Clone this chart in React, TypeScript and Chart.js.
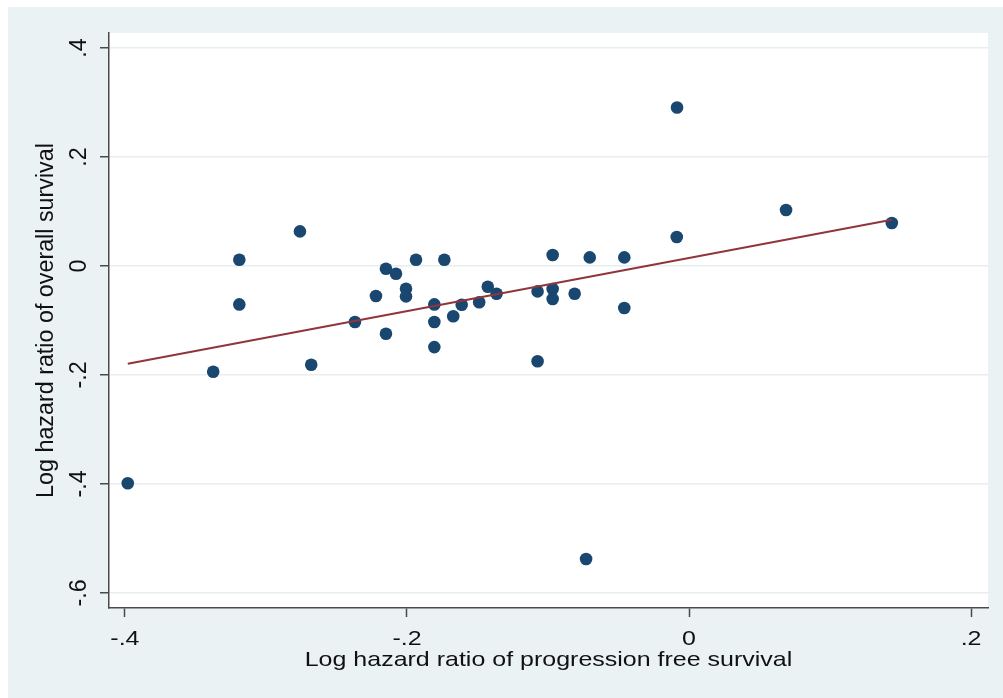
import { useEffect, useRef } from 'react';
import { Chart, registerables } from 'chart.js';

Chart.register(...registerables);

// Study-level log hazard ratios (x: progression free survival, y: overall survival)
const pfsLogHR = [
  -0.398, -0.3374, -0.3189, -0.3189, -0.2759, -0.2679, -0.2369, -0.222, -0.2149, -0.2149,
  -0.2078, -0.2007, -0.2007, -0.1936, -0.1806, -0.1806, -0.1806, -0.1735, -0.1672, -0.1612,
  -0.1488, -0.1427, -0.1365, -0.1074, -0.1074, -0.0967, -0.0967, -0.0967, -0.0811, -0.073,
  -0.0704, -0.0459, -0.0459, -0.0085, -0.0087, 0.0688, 0.1438,
];
const osLogHR = [
  -0.3985, -0.1941, 0.0116, -0.0705, 0.0635, -0.1813, -0.1028, -0.0551, -0.005, -0.1243,
  -0.0141, -0.0417, -0.0558, 0.0116, -0.0705, -0.1028, -0.1488, 0.0116, -0.0922, -0.0711,
  -0.0665, -0.038, -0.0509, -0.0466, -0.1748, 0.0202, -0.0422, -0.0606, -0.0509, -0.5375,
  0.0158, 0.0158, -0.0771, 0.2907, 0.0533, 0.1028, 0.079,
];

// Fitted line endpoints
const fitX = [-0.398, 0.1438];
const fitY = [-0.1794, 0.085];

const xTickValues = [-0.4, -0.2, 0, 0.2];
const xTickLabels = ['-.4', '-.2', '0', '.2'];
const yTickValues = [-0.6, -0.4, -0.2, 0, 0.2, 0.4];
const yTickLabels = ['-.6', '-.4', '-.2', '0', '.2', '.4'];

const xTitle = 'Log hazard ratio of progression free survival';
const yTitle = 'Log hazard ratio of overall survival';

const NAVY = '#1a476f';
const MAROON = '#90353b';
const BG = '#eaf2f3';
const GRID = '#e6eef0';
const AXIS = '#4a4a4a';
const TEXT = '#111111';
const H_TEXT_STRETCH = 1.19;

const bgPlugin = {
  id: 'stataBg',
  beforeDraw(chart: any) {
    const { ctx, chartArea, width, height } = chart;
    ctx.save();
    ctx.fillStyle = BG;
    ctx.fillRect(0, 0, width, height);
    ctx.fillStyle = '#ffffff';
    ctx.fillRect(chartArea.left, chartArea.top, chartArea.right - chartArea.left, chartArea.bottom - chartArea.top);
    ctx.restore();
  },
};

// Horizontal text in the original is drawn wider than the font's natural width.
const stretchPlugin = {
  id: 'hTextStretch',
  beforeDraw(chart: any) {
    const ctx = chart.ctx as CanvasRenderingContext2D;
    const orig = CanvasRenderingContext2D.prototype.fillText;
    (ctx as any).fillText = function (text: string, x: number, y: number, maxWidth?: number) {
      const m = ctx.getTransform();
      const call = () => (maxWidth === undefined ? orig.call(ctx, text, x, y) : orig.call(ctx, text, x, y, maxWidth));
      if (Math.abs(m.b) > 1e-6 || Math.abs(m.c) > 1e-6) {
        call();
        return;
      }
      const p = m.transformPoint(new DOMPoint(x, y));
      ctx.save();
      ctx.setTransform(new DOMMatrix().translate(p.x, p.y).scale(H_TEXT_STRETCH, 1).translate(-p.x, -p.y).multiply(m));
      call();
      ctx.restore();
    };
  },
  afterDraw(chart: any) {
    delete (chart.ctx as any).fillText;
  },
};

function labelFor(values: number[], labels: string[], v: number) {
  for (let i = 0; i < values.length; i++) {
    if (Math.abs(values[i] - v) < 1e-6) return labels[i];
  }
  return '';
}

export default function App() {
  const ref = useRef<HTMLCanvasElement | null>(null);

  useEffect(() => {
    if (!ref.current) return;
    Chart.defaults.font.family = '"Liberation Sans", Arial, sans-serif';
    const points = pfsLogHR.map((x, i) => ({ x, y: osLogHR[i] }));
    const fit = fitX.map((x, i) => ({ x, y: fitY[i] }));
    const chart = new Chart(ref.current, {
      type: 'scatter',
      data: {
        datasets: [
          {
            type: 'line',
            data: fit,
            borderColor: MAROON,
            borderWidth: 2,
            pointRadius: 0,
            fill: false,
            showLine: true,
          } as any,
          {
            data: points,
            backgroundColor: NAVY,
            borderColor: NAVY,
            borderWidth: 0,
            pointRadius: 6.3,
            pointHoverRadius: 6.3,
          },
        ],
      },
      options: {
        animation: false,
        responsive: true,
        maintainAspectRatio: false,
        layout: { padding: { top: 26, right: 15, left: 0, bottom: 0 } },
        plugins: { legend: { display: false }, tooltip: { enabled: false } },
        scales: {
          x: {
            type: 'linear',
            min: -0.4113,
            max: 0.212,
            afterBuildTicks: (scale: any) => {
              scale.ticks = xTickValues.map((v) => ({ value: v }));
            },
            afterFit: (scale: any) => {
              scale.height = 90;
            },
            grid: {
              display: true,
              drawOnChartArea: false,
              drawTicks: true,
              tickLength: 9,
              tickColor: AXIS,
              tickWidth: 1.5,
            },
            border: { display: true, color: AXIS, width: 1.5 },
            ticks: {
              padding: 10,
              color: TEXT,
              font: { size: 21 },
              maxRotation: 0,
              minRotation: 0,
              callback: (v: any) => labelFor(xTickValues, xTickLabels, Number(v)),
            },
            title: {
              display: true,
              text: xTitle,
              color: TEXT,
              font: { size: 21 },
              padding: { top: 0, bottom: 25 },
            },
          },
          y: {
            type: 'linear',
            min: -0.6275,
            max: 0.4275,
            afterBuildTicks: (scale: any) => {
              scale.ticks = yTickValues.map((v) => ({ value: v }));
            },
            afterFit: (scale: any) => {
              scale.width = 101;
            },
            grid: {
              display: true,
              drawOnChartArea: true,
              drawTicks: true,
              color: GRID,
              lineWidth: 1.5,
              tickLength: 9,
              tickColor: AXIS,
              tickWidth: 1.5,
            },
            border: { display: true, color: AXIS, width: 1.5 },
            ticks: {
              padding: 7,
              color: TEXT,
              font: { size: 23.3 },
              minRotation: 90,
              maxRotation: 90,
              crossAlign: 'center',
              callback: (v: any) => labelFor(yTickValues, yTickLabels, Number(v)),
            },
            title: {
              display: true,
              text: yTitle,
              color: TEXT,
              font: { size: 23.3 },
              padding: { top: 25, bottom: 0 },
            },
          },
        },
      },
      plugins: [bgPlugin, stretchPlugin],
    });
    return () => chart.destroy();
  }, []);

  return (
    <div style={{ position: 'fixed', left: 8, top: 7, width: 995, height: 691 }}>
      <canvas ref={ref} />
    </div>
  );
}
